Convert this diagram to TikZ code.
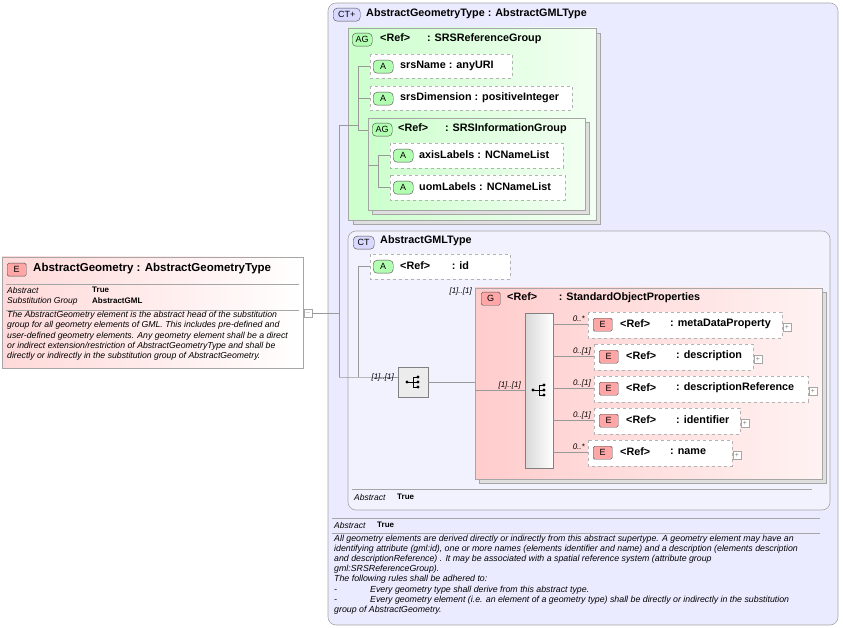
\documentclass[tikz,border=0pt]{standalone}
\usepackage{fontspec}
\setmainfont{Liberation Sans}
\begin{document}
\begin{tikzpicture}[x=1pt,y=-1pt,
 box/.style={draw=gray!70,line width=0.6pt},
 dbox/.style={draw=gray!60,dashed,fill=white,line width=0.6pt},
 badge/.style={draw=black!70,rounded corners=1.5pt,inner sep=0pt,font=\fontsize{9}{9}\selectfont,minimum height=13pt,anchor=north west},
 ebadge/.style={badge,fill=red!35,minimum width=19pt},
 abadge/.style={badge,fill=green!30,minimum width=20pt,rounded corners=4pt},
 ln/.style={draw=gray!80,line width=0.6pt},
 t/.style={anchor=west,inner sep=0pt,font=\fontsize{10.8}{12}\selectfont\bfseries},
 tv/.style={anchor=west,inner sep=0pt,font=\fontsize{8}{9}\selectfont\bfseries},
 sm/.style={anchor=west,inner sep=0pt,font=\fontsize{8.5}{9}\selectfont\itshape},
 desc/.style={anchor=north west,inner sep=0pt,font=\fontsize{8.7}{10.3}\selectfont\itshape,align=left},
 mul/.style={anchor=east,inner sep=0pt,font=\fontsize{8}{8}\selectfont\itshape},
 pl/.style={draw=gray!70,fill=white,minimum size=8pt,inner sep=0pt,font=\fontsize{7}{7}\selectfont,text=gray},
 seqicon/.pic={
  \draw[line width=0.8pt] (-6,0) -- (5,0) (0,-5) -- (0,5) (0,-5) -- (5,-5) (0,5) -- (5,5);
  \fill (-6,0) circle (1.6pt) (5,-5) circle (1.6pt) (5,0) circle (1.6pt) (5,5) circle (1.6pt);}]
\useasboundingbox (0,0) rectangle (843,628);
% left element
\draw[box,left color=red!15,right color=white] (2,257) rectangle (303,368);
\node[ebadge] (eb) at (7,263) {E};
\node[t,font=\fontsize{11.5}{12}\selectfont\bfseries] (et) at (33,269) {AbstractGeometry : AbstractGeometryType};
\draw[gray!70] (6,284) -- (299,284) (6,310) -- (299,310);
\node[sm] (ea) at (7,290) {Abstract};
\node[sm] (es) at (7,301) {Substitution Group};
\node[tv] at (92,290) {True};
\node[tv] at (92,301) {AbstractGML};
\node[desc] at (7,311) {The AbstractGeometry element is the abstract head of the substitution\\group for all geometry elements of GML. This includes pre-defined and\\user-defined geometry elements. Any geometry element shall be a direct\\or indirect extension/restriction of AbstractGeometryType and shall be\\directly or indirectly in the substitution group of AbstractGeometry.};
\node[pl] (em) at (308,313) {$-$};
% outer CT
\draw[box,rounded corners=8pt,fill=blue!8] (328,3) rectangle (838,625);
\node[badge,fill=blue!15,minimum width=27pt,rounded corners=4pt] (ctb) at (333,8) {CT+};
\node[t] at (366,14) {AbstractGeometryType : AbstractGMLType};
\coordinate (j) at (339,313);
\draw[ln] (em) -- (j);
\draw[ln] (339,125) -- (339,377);
% AG group
\draw[box,fill=gray!25] (353,33) rectangle (600,224);
\draw[box,left color=green!20,right color=green!5] (348,28) rectangle (596,220);
\node[abadge] at (352,33) {AG};
\node[t] at (380,39) {<Ref>\quad\ \ : SRSReferenceGroup};
\draw[ln] (339,125) -- (358,125);
\draw[ln] (370,66) -- (358,66) -- (358,130) -- (368,130) (358,98) -- (370,98);
\draw[dbox] (370,54) rectangle (512,78);
\node[abadge] at (373,60) {A}; \node[t] at (400,66) {srsName : anyURI};
\draw[dbox] (370,86) rectangle (572,110);
\node[abadge] at (373,92) {A}; \node[t] at (400,98) {srsDimension : positiveInteger};
\draw[box,fill=gray!25] (372,122) rectangle (589,214);
\draw[box,left color=green!20,right color=green!5] (368,118) rectangle (585,210);
\node[abadge] at (372,123) {AG};
\node[t] at (398,129) {<Ref>\quad\ \ : SRSInformationGroup};
\draw[ln] (390,155) -- (378,155) -- (378,187) -- (390,187) (368,165) -- (378,165);
\draw[dbox] (390,143) rectangle (563,168);
\node[abadge] at (393,149) {A}; \node[t] at (419,155) {axisLabels : NCNameList};
\draw[dbox] (390,175) rectangle (565,200);
\node[abadge] at (393,181) {A}; \node[t] at (419,187) {uomLabels : NCNameList};
% AbstractGMLType
\draw[box,rounded corners=8pt,fill=blue!5] (348,231) rectangle (830,510);
\node[badge,fill=blue!15,minimum width=21pt,rounded corners=4pt] at (353,236) {CT};
\node[t] at (380,241) {AbstractGMLType};
\draw[ln] (370,266) -- (358,266) -- (358,377);
\draw[dbox] (370,254) rectangle (510,279);
\node[abadge] at (373,260) {A}; \node[t] at (400,266) {<Ref>\qquad: id};
\draw[ln] (339,377) -- (358,377) -- (398,377);
\node[mul] at (394,377) {[1]..[1]};
\node[draw=gray,fill=gray!15,minimum width=30pt,minimum height=30pt,inner sep=0pt] (s1) at (413,382) {};
\pic at (413,382) {seqicon};
\draw[ln] (s1) -- (475,382);
% G box
\draw[box,fill=gray!25] (479,292) rectangle (826,483);
\draw[box,left color=red!20,right color=red!5] (475,288) rectangle (822,479);
\node[mul] at (472,291) {[1]..[1]};
\node[ebadge] at (481,292) {G};
\node[t] at (507,298) {<Ref>\qquad: StandardObjectProperties};
\draw[ln] (475,390) -- (525,390);
\node[mul] at (521,385) {[1]..[1]};
\draw[draw=gray,left color=gray!30,right color=white] (525,313) rectangle (553,468);
\pic at (539,390) {seqicon};
\foreach \y/\xa/\xb/\m/\nm in {324/588/782/0..*/metaDataProperty,356/594/753/0..[1]/description,388/594/808/0..[1]/descriptionReference,420/594/740/0..[1]/identifier,452/588/732/0..*/name}{
 \draw[ln] (553,\y) -- (\xa,\y);
 \node[mul] at (\xa-3,\y-5) {\m};
 \draw[dbox] (\xa,\y-12) rectangle (\xb,\y+14);
 \node[ebadge] at (\xa+5,\y-6) {E};
 \node[t] at (\xa+32,\y) {<Ref>};
 \node[t] at (\xa+82,\y) {: \nm};
 \node[pl] at (\xb+5,\y+3) {+};}
\draw[gray!70] (352,489) -- (812,489);
\node[sm] at (354,497) {Abstract};
\node[tv] at (397,497) {True};
% bottom
\draw[gray!70] (332,518) -- (820,518) (332,533) -- (820,533);
\node[sm] at (334,525) {Abstract};
\node[tv] at (377,525) {True};
\node[desc,font=\fontsize{8.8}{10.1}\selectfont\itshape] at (334,535) {All geometry elements are derived directly or indirectly from this abstract supertype. A geometry element may have an\\identifying attribute (gml:id), one or more names (elements identifier and name) and a description (elements description\\and descriptionReference) . It may be associated with a spatial reference system (attribute group\\gml:SRSReferenceGroup).\\The following rules shall be adhered to:\\-\hspace{33pt}Every geometry type shall derive from this abstract type.\\-\hspace{33pt}Every geometry element (i.e. an element of a geometry type) shall be directly or indirectly in the substitution\\group of AbstractGeometry.};
\end{tikzpicture}
\end{document}
